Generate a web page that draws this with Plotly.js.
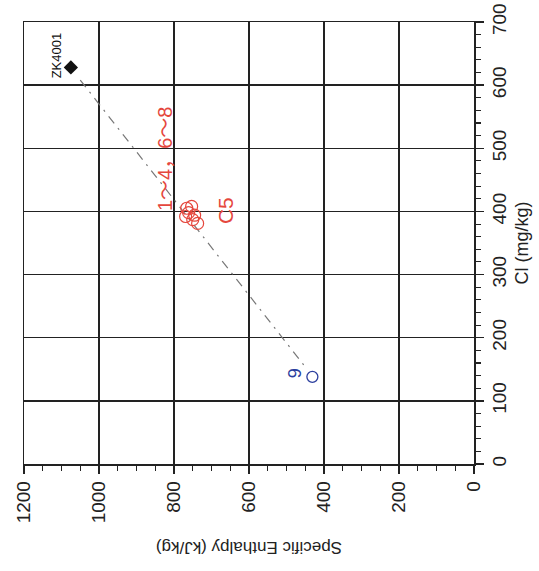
<!DOCTYPE html>
<html>
<head>
<meta charset="utf-8">
<script src="https://cdn.plot.ly/plotly-3.0.1.min.js"></script>
<style>
html,body{margin:0;padding:0;background:#fff;}
#chart{width:539px;height:571px;}
</style>
</head>
<body>
<div id="chart"></div>
<script>
// ---- data ----
var zkEnthalpy = [1075];
var zkCl = [628];
var zkLabel = "ZK4001";

var redEnthalpy = [766, 753, 769, 745, 737, 761, 750];
var redCl = [405, 408, 392, 394, 381, 398, 387];
var redLabelA = "1～4，6～8";
var redLabelB = "C5";

var blueEnthalpy = [431];
var blueCl = [138];
var blueLabel = "9";

var mixLineEnthalpy = [1050, 445];
var mixLineCl = [608, 150];

var enthalpyTicks = [0, 200, 400, 600, 800, 1000, 1200];
var clTicks = [0, 100, 200, 300, 400, 500, 600, 700];

var xTitle = "Specific Enthalpy (kJ/kg)";
var yTitle = "Cl (mg/kg)";

var RED = "#e5473d";
var BLUE = "#2c3f9e";
var FONT = "Liberation Sans, Arial, Noto Sans CJK SC, sans-serif";

var traces = [
  {
    x: mixLineEnthalpy, y: mixLineCl, mode: "lines", type: "scatter",
    line: {color: "#777", width: 1.2, dash: "9px,6px,2px,6px"},
    hoverinfo: "skip", showlegend: false
  },
  {
    x: zkEnthalpy, y: zkCl, mode: "markers", type: "scatter",
    marker: {symbol: "diamond", size: 11, color: "#111"},
    showlegend: false
  },
  {
    x: redEnthalpy, y: redCl, mode: "markers", type: "scatter",
    marker: {symbol: "circle-open", size: 12, color: RED, line: {width: 1.2, color: RED}},
    showlegend: false
  },
  {
    x: blueEnthalpy, y: blueCl, mode: "markers", type: "scatter",
    marker: {symbol: "circle-open", size: 11, color: BLUE, line: {width: 1.3, color: BLUE}},
    showlegend: false
  }
];

var layout = {
  width: 539, height: 571,
  margin: {l: 24, r: 65, t: 22, b: 107},
  paper_bgcolor: "#fff", plot_bgcolor: "#fff",
  showlegend: false,
  font: {family: FONT, color: "#222"},
  xaxis: {
    range: [1200, 0], autorange: false,
    tickvals: enthalpyTicks, ticktext: enthalpyTicks.map(String),
    tickangle: -90,
    ticks: "outside", ticklen: 8, tickwidth: 1.3, tickcolor: "#222",
    tickfont: {size: 19, family: FONT, color: "#222"},
    showgrid: true, gridcolor: "#222", gridwidth: 1.5,
    showline: true, linecolor: "#222", linewidth: 1.5, mirror: true,
    zeroline: false,
    minor: {dtick: 50, ticks: "outside", ticklen: 5, tickwidth: 1.1, tickcolor: "#222", showgrid: false}
  },
  yaxis: {
    range: [0, 700], autorange: false, side: "right",
    tickvals: clTicks, ticktext: clTicks.map(String),
    tickangle: -90,
    ticks: "outside", ticklen: 8, tickwidth: 1.3, tickcolor: "#222",
    tickfont: {size: 19, family: FONT, color: "#222"},
    showgrid: true, gridcolor: "#222", gridwidth: 1.5,
    showline: true, linecolor: "#222", linewidth: 1.5, mirror: true,
    zeroline: false,
    title: {text: yTitle, font: {size: 18, family: FONT, color: "#222"}, standoff: 6},
    minor: {dtick: 20, ticks: "outside", ticklen: 5, tickwidth: 1.1, tickcolor: "#222", showgrid: false}
  },
  annotations: [
    {
      x: zkEnthalpy[0], y: zkCl[0], xref: "x", yref: "y",
      text: zkLabel, showarrow: false, textangle: -90,
      xshift: -14, yshift: 12,
      font: {size: 13, family: FONT, color: "#111"}
    },
    {
      x: redEnthalpy[0], y: redCl[0], xref: "x", yref: "y",
      text: redLabelA, showarrow: false, textangle: -90,
      xshift: -21, yshift: 50,
      font: {size: 20, family: FONT, color: RED}
    },
    {
      x: redEnthalpy[4], y: redCl[4], xref: "x", yref: "y",
      text: redLabelB, showarrow: false, textangle: -90,
      xshift: 28, yshift: 13,
      font: {size: 21, family: FONT, color: RED}
    },
    {
      x: blueEnthalpy[0], y: blueCl[0], xref: "x", yref: "y",
      text: blueLabel, showarrow: false, textangle: -90,
      xshift: -18, yshift: 4,
      font: {size: 18, family: FONT, color: BLUE}
    },
    {
      x: 0.5, y: 0, xref: "paper", yref: "paper",
      xanchor: "center", yanchor: "middle",
      text: xTitle, showarrow: false, textangle: 180,
      yshift: -84,
      font: {size: 17, family: FONT, color: "#222"}
    }
  ]
};

Plotly.newPlot("chart", traces, layout, {displayModeBar: false, staticPlot: true});
</script>
</body>
</html>
